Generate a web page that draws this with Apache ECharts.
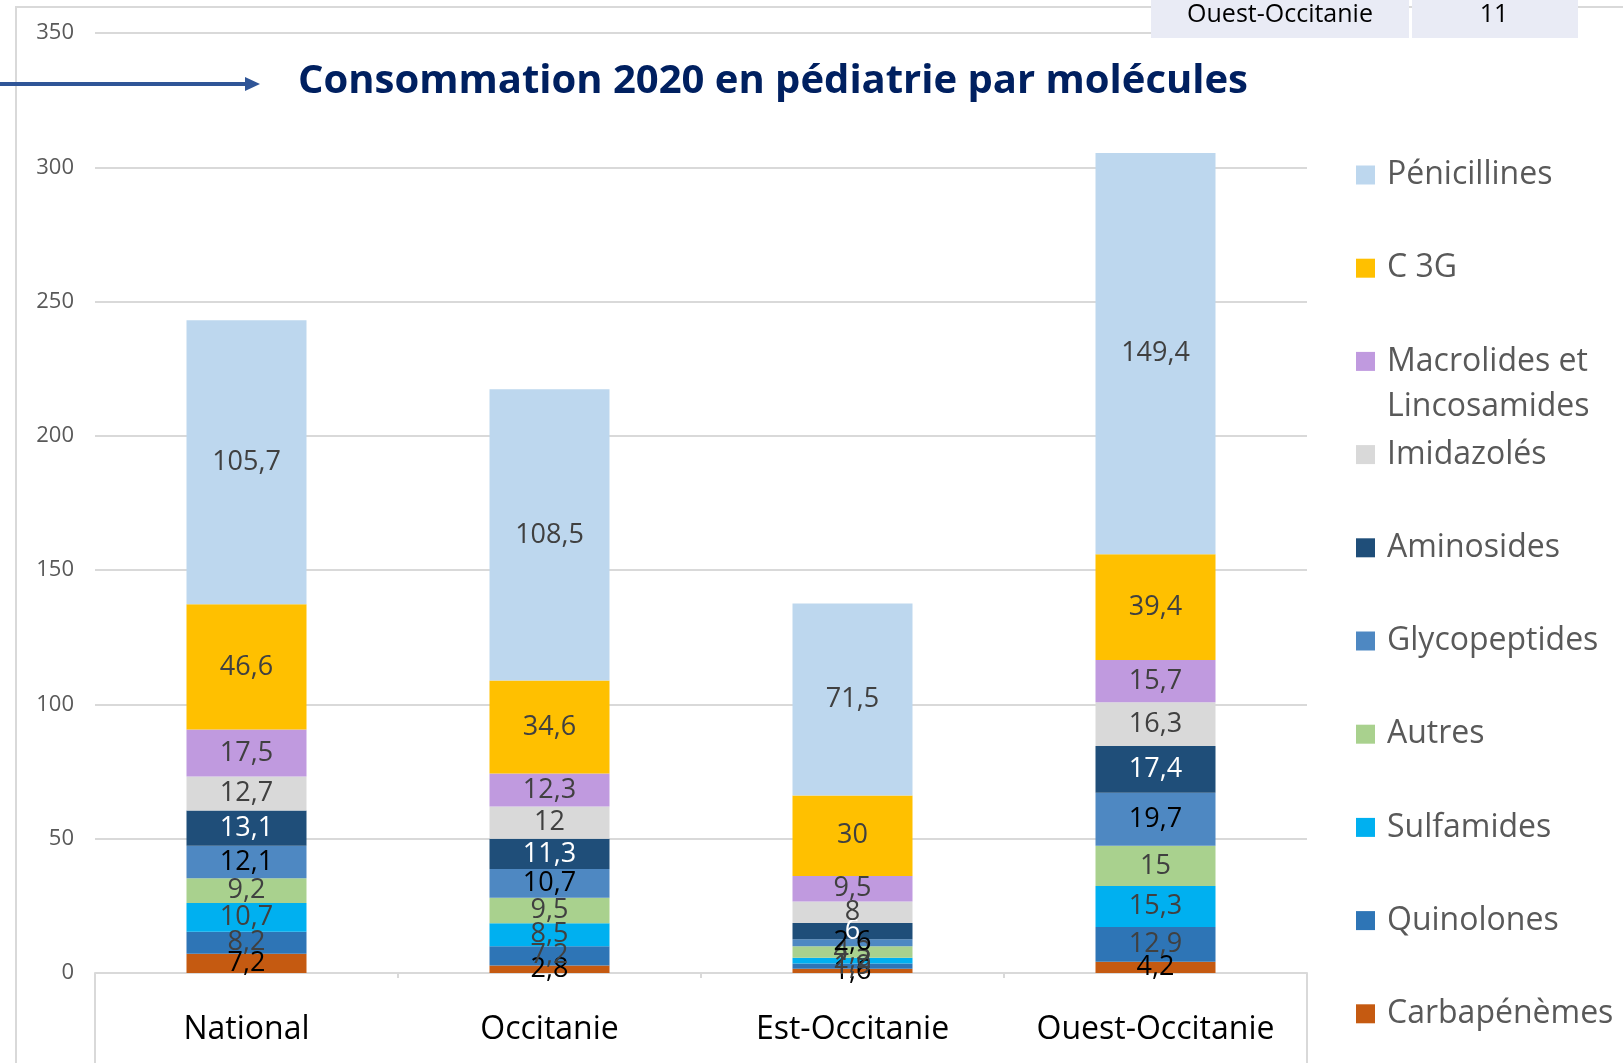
<!DOCTYPE html>
<html>
<head>
<meta charset="utf-8">
<script src="https://cdn.jsdelivr.net/npm/echarts@6/dist/echarts.min.js"></script>
<style>
  html, body { margin: 0; padding: 0; background: #fff; }
  #chart { width: 1623px; height: 1063px; }
</style>
</head>
<body>
<div id="chart"></div>
<script>
// categories and values (stack order: bottom -> top)
const categories = ['National', 'Occitanie', 'Est-Occitanie', 'Ouest-Occitanie'];
const carbapenemes = [7.2, 2.8, 1.6, 4.2];
const quinolones = [8.2, 7.2, 1.9, 12.9];
const sulfamides = [10.7, 8.5, 2.2, 15.3];
const autres = [9.2, 9.5, 4.3, 15];
const glycopeptides = [12.1, 10.7, 2.6, 19.7];
const aminosides = [13.1, 11.3, 6, 17.4];
const imidazoles = [12.7, 12, 8, 16.3];
const macrolides = [17.5, 12.3, 9.5, 15.7];
const c3g = [46.6, 34.6, 30, 39.4];
const penicillines = [105.7, 108.5, 71.5, 149.4];

const yTicks = [0, 50, 100, 150, 200, 250, 300, 350];

const FONT = '"Open Sans", "Noto Sans", sans-serif';
const GRID_LEFT = 95;
const GRID_RIGHT = 316;
const GRID_TOP = 33;
const GRID_BOTTOM = 90;
const W = 1623, H = 1063;

const chart = echarts.init(document.getElementById('chart'));

const fmt = v => String(v).replace('.', ',');

function makeSerie(name, data, color, labelColor) {
    return {
        name: name,
        type: 'bar',
        stack: 'total',
        barWidth: 120,
        data: data,
        itemStyle: {color: color},
        label: {
            show: true,
            position: 'inside',
            formatter: p => fmt(p.value),
            color: labelColor || '#404040',
            fontFamily: FONT,
            fontSize: 27,
        },
        emphasis: {disabled: true},
    };
}

const series = [
    makeSerie('Carbapénèmes', carbapenemes, '#C55A11', '#000'),
    makeSerie('Quinolones', quinolones, '#2E75B6'),
    makeSerie('Sulfamides', sulfamides, '#00B0F0'),
    makeSerie('Autres', autres, '#A9D18E'),
    makeSerie('Glycopeptides', glycopeptides, '#4E88C2', '#000'),
    makeSerie('Aminosides', aminosides, '#1F4E79', '#fff'),
    makeSerie('Imidazolés', imidazoles, '#D9D9D9'),
    makeSerie('Macrolides et Lincosamides', macrolides, '#C09ADF'),
    makeSerie('C 3G', c3g, '#FFC000'),
    makeSerie('Pénicillines', penicillines, '#BDD7EE'),
];

const legendNames = series.map(s => s.name).reverse();

const option = {
    animation: false,
    backgroundColor: '#fff',
    grid: {left: GRID_LEFT, right: GRID_RIGHT, top: GRID_TOP, bottom: GRID_BOTTOM},
    legend: {
        orient: 'vertical',
        left: 1356,
        top: 157,
        padding: 0,
        itemWidth: 19,
        itemHeight: 19,
        itemGap: 57.2,
        icon: 'rect',
        data: legendNames,
        selectedMode: false,
        formatter: name => name === 'Macrolides et Lincosamides' ? 'Macrolides et' : name,
        textStyle: {
            color: '#595959',
            fontFamily: FONT,
            fontSize: 32,
            lineHeight: 36,
            padding: [0, 0, 0, 7],
        },
    },
    xAxis: {
        type: 'category',
        data: categories,
        axisLine: {lineStyle: {color: '#D9D9D9', width: 2}},
        axisTick: {show: true, length: 5, lineStyle: {color: '#D9D9D9', width: 2}},
        axisLabel: {
            interval: 0,
            hideOverlap: false,
            color: '#000',
            fontFamily: FONT,
            fontSize: 32,
            margin: 41,
        },
    },
    yAxis: {
        type: 'value',
        min: yTicks[0],
        max: yTicks[yTicks.length - 1],
        interval: 50,
        axisLine: {show: false},
        axisTick: {show: false},
        axisLabel: {color: '#595959', fontFamily: FONT, fontSize: 22, margin: 21},
        splitLine: {lineStyle: {color: '#D9D9D9', width: 2}},
    },
    series: series,
    graphic: [
        // outer chart frame
        {
            type: 'polyline', z: 1, silent: true,
            shape: {points: [[16, H], [16, 7], [W, 7]]},
            style: {stroke: '#D9D9D9', lineWidth: 2, fill: null},
        },
        // box under the category axis
        {
            type: 'line', z: 1, silent: true,
            shape: {x1: GRID_LEFT, y1: H - GRID_BOTTOM, x2: GRID_LEFT, y2: H},
            style: {stroke: '#D9D9D9', lineWidth: 2},
        },
        {
            type: 'line', z: 1, silent: true,
            shape: {x1: W - GRID_RIGHT, y1: H - GRID_BOTTOM, x2: W - GRID_RIGHT, y2: H},
            style: {stroke: '#D9D9D9', lineWidth: 2},
        },
        // title + arrow
        {
            type: 'line', z: 5, silent: true,
            shape: {x1: 0, y1: 84, x2: 247, y2: 84},
            style: {stroke: '#2F5597', lineWidth: 4},
        },
        {
            type: 'polygon', z: 5, silent: true,
            shape: {points: [[245, 77], [260, 84], [245, 91]]},
            style: {fill: '#2F5597'},
        },
        {
            type: 'text', z: 5, silent: true,
            x: 773, y: 82,
            style: {
                text: 'Consommation 2020 en pédiatrie par molécules',
                fill: '#002060',
                font: 'bold 40px ' + FONT,
                align: 'center',
                verticalAlign: 'middle',
            },
        },
        // table fragment top right
        {
            type: 'rect', z: 10, silent: true,
            shape: {x: 1151, y: 0, width: 258, height: 38},
            style: {fill: '#E9EBF5'},
        },
        {
            type: 'rect', z: 10, silent: true,
            shape: {x: 1412, y: 0, width: 166, height: 38},
            style: {fill: '#E9EBF5'},
        },
        {
            type: 'text', z: 11, silent: true,
            x: 1280, y: 15,
            style: {text: 'Ouest-Occitanie', fill: '#000', font: '25px ' + FONT, align: 'center', verticalAlign: 'middle'},
        },
        {
            type: 'text', z: 11, silent: true,
            x: 1494, y: 15,
            style: {text: '11', fill: '#000', font: '25px ' + FONT, align: 'center', verticalAlign: 'middle'},
        },
        // second line of the wrapped legend entry
        {
            type: 'text', z: 5, silent: true,
            x: 1387, y: 407,
            style: {text: 'Lincosamides', fill: '#595959', font: '32px ' + FONT, align: 'left', verticalAlign: 'middle'},
        },
    ],
};

chart.setOption(option);
</script>
</body>
</html>
